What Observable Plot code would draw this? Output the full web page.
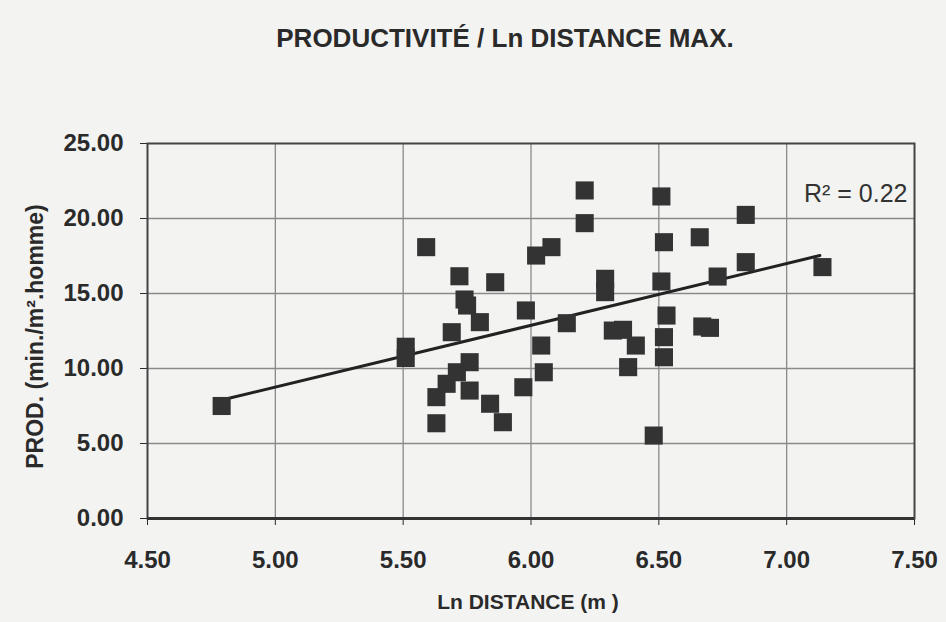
<!DOCTYPE html>
<html><head><meta charset="utf-8">
<script src="https://cdn.jsdelivr.net/npm/d3@7"></script>
<script src="https://cdn.jsdelivr.net/npm/@observablehq/plot@0.6"></script>
<style>
html,body{margin:0;padding:0;background:#f3f3f2;}
#title{width:946px;height:62px;box-sizing:border-box;padding-top:23px;padding-left:64px;text-align:center;font:bold 26px/30px "Liberation Sans",Arial,Helvetica,sans-serif;color:#2a2a2a;}
#chart svg{display:block;}
</style></head><body>
<div id="title"></div><div id="chart"></div>
<script>
const title = "PRODUCTIVITÉ / Ln DISTANCE MAX.";
const xLabel = "Ln DISTANCE (m )";
const yLabel = "PROD. (min./m².homme)";
const r2Label = "R² = 0.22";
const xTicks = [4.5, 5, 5.5, 6, 6.5, 7, 7.5];
const yTicks = [0, 5, 10, 15, 20, 25];
const lnDistance = [4.79, 5.51, 5.51, 5.59, 5.63, 5.63, 5.67, 5.69, 5.71, 5.72, 5.74, 5.75, 5.76, 5.76, 5.80, 5.84, 5.86, 5.89, 5.97, 5.98, 6.02, 6.04, 6.05, 6.08, 6.14, 6.21, 6.21, 6.29, 6.29, 6.32, 6.36, 6.38, 6.41, 6.48, 6.51, 6.52, 6.51, 6.53, 6.52, 6.52, 6.66, 6.67, 6.70, 6.73, 6.84, 6.84, 7.14];
const productivity = [7.5, 11.45, 10.7, 18.09, 8.09, 6.35, 8.98, 12.42, 9.75, 16.15, 14.6, 14.2, 10.42, 8.53, 13.09, 7.65, 15.75, 6.42, 8.75, 13.87, 17.53, 11.53, 9.75, 18.09, 13.02, 21.87, 19.69, 15.98, 15.09, 12.53, 12.58, 10.09, 11.53, 5.53, 21.47, 18.42, 15.8, 13.53, 12.09, 10.75, 18.75, 12.8, 12.71, 16.13, 20.24, 17.09, 16.76];
const trendX = [4.79, 7.13];
const trendY = [7.9, 17.53];

document.getElementById("title").textContent = title;
const points = lnDistance.map((x, i) => ({x, y: productivity[i]}));
const trend = trendX.map((x, i) => ({x, y: trendY[i]}));
const font = '"Liberation Sans", Arial, Helvetica, sans-serif';

const chart = Plot.plot({
  width: 946,
  height: 560,
  marginTop: 81,
  marginBottom: 104,
  marginLeft: 147,
  marginRight: 32,
  style: {background: "transparent", fontFamily: font, fontSize: "24px", fontWeight: "bold", color: "#2a2a2a", overflow: "visible"},
  x: {domain: [4.5, 7.5], ticks: xTicks, tickFormat: d3.format(".2f"), tickSize: 7, tickPadding: 25, label: null},
  y: {domain: [0, 25], ticks: yTicks, tickFormat: d3.format(".2f"), tickSize: 7, tickPadding: 17, label: null},
  marks: [
    Plot.ruleX(xTicks.slice(1, -1), {stroke: "#8a8a8a", strokeWidth: 1.3}),
    Plot.ruleY(yTicks.slice(1, -1), {stroke: "#8a8a8a", strokeWidth: 1.3}),
    Plot.frame({stroke: "#444", strokeWidth: 2}),
    Plot.ruleY([0], {stroke: "#333", strokeWidth: 3}),
    Plot.line(trend, {x: "x", y: "y", stroke: "#222", strokeWidth: 3}),
    Plot.dot(points, {x: "x", y: "y", symbol: "square", r: 10.2, fill: "#333"}),
    Plot.text([r2Label], {text: d => d, frameAnchor: "top-right", dx: -7, dy: 50, textAnchor: "end", lineAnchor: "middle", fontSize: 25, fontWeight: "normal", fill: "#333"}),
    Plot.text([xLabel], {text: d => d, frameAnchor: "bottom", dx: -3, dy: 84, textAnchor: "middle", lineAnchor: "middle", fontSize: 21, fill: "#2a2a2a"}),
    Plot.text([yLabel], {text: d => d, frameAnchor: "left", dx: -112, dy: 5.5, rotate: -90, textAnchor: "middle", lineAnchor: "middle", fontSize: 23, fill: "#2a2a2a"})
  ]
});
document.getElementById("chart").appendChild(chart);
</script>
</body></html>
